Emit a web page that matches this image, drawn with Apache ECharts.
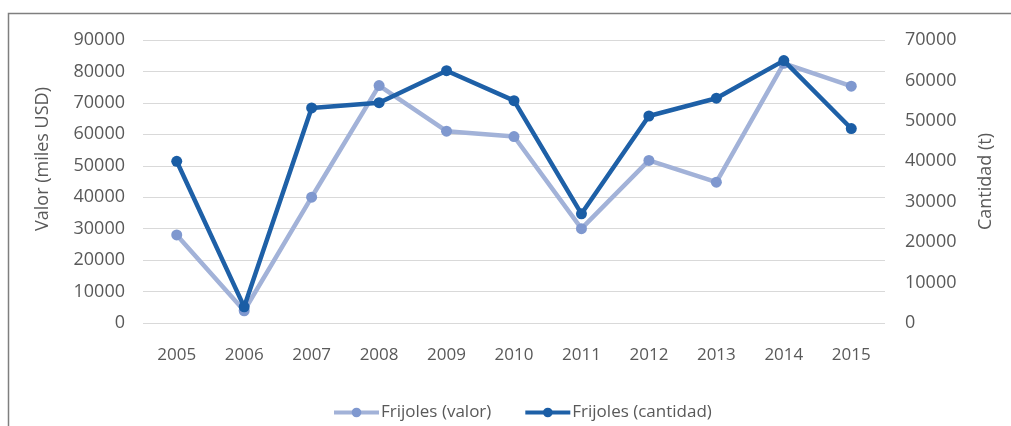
<!DOCTYPE html>
<html><head><meta charset="utf-8">
<script src="https://cdn.jsdelivr.net/npm/echarts@6/dist/echarts.min.js"></script>
<style>html,body{margin:0;padding:0;background:#fff}#c{width:1011px;height:426px}</style>
</head><body><div id="c"></div>
<script>
var years = ['2005','2006','2007','2008','2009','2010','2011','2012','2013','2014','2015'];
var valor = [28000, 3900, 40000, 75500, 61000, 59300, 30000, 51700, 44800, 82600, 75300];
var cantidad = [40000, 4000, 53200, 54500, 62400, 55000, 27000, 51200, 55600, 64900, 48100];
var leftTicks = {min: 0, max: 90000, interval: 10000};
var rightTicks = {min: 0, max: 70000, interval: 10000};

var font = 'Open Sans';
var txt = '#595959';
function plain(v) { return String(v); }
var chart = echarts.init(document.getElementById('c'));
chart.setOption({
  animation: false,
  backgroundColor: '#fff',
  grid: {left: 143, right: 126, top: 40, bottom: 103},
  graphic: [
    {type: 'rect', shape: {x: 8.5, y: 13.5, width: 1030, height: 440}, style: {fill: 'none', stroke: '#7f7f7f', lineWidth: 1.5}, silent: true},
    {type: 'text', x: 43, y: 159, rotation: Math.PI/2, style: {text: 'Valor (miles USD)', font: '18px "Open Sans"', fill: txt, align: 'center', verticalAlign: 'middle'}}
  ],
  legend: {
    left: 327, top: 399,
    itemWidth: 45, itemHeight: 12, itemGap: 32,
    lineStyle: {width: 4},
    textStyle: {fontFamily: font, fontSize: 17, color: txt, padding: [0,0,0,-3]},
    data: ['Frijoles (valor)', 'Frijoles (cantidad)']
  },
  xAxis: {
    type: 'category', data: years, boundaryGap: true,
    axisLine: {show: false}, axisTick: {show: false},
    axisLabel: {fontFamily: font, fontSize: 17, color: txt, margin: 24}
  },
  yAxis: [
    {type: 'value', min: leftTicks.min, max: leftTicks.max, interval: leftTicks.interval,
     axisLine: {show: false}, axisTick: {show: false},
     axisLabel: {fontFamily: font, fontSize: 18, color: txt, margin: 18, formatter: plain},
     splitLine: {lineStyle: {color: '#d9d9d9', width: 1}}},
    {type: 'value', min: rightTicks.min, max: rightTicks.max, interval: rightTicks.interval,
     position: 'right',
     name: 'Cantidad (t)', nameLocation: 'middle', nameGap: 92, nameRotate: 90,
     nameTextStyle: {fontFamily: font, fontSize: 18, color: txt},
     axisLine: {show: false}, axisTick: {show: false},
     axisLabel: {fontFamily: font, fontSize: 18, color: txt, margin: 20, formatter: plain},
     splitLine: {show: false}}
  ],
  series: [
    {name: 'Frijoles (valor)', type: 'line', yAxisIndex: 0, data: valor,
     symbol: 'circle', symbolSize: 11,
     lineStyle: {color: '#a2b2d8', width: 4.5},
     itemStyle: {color: '#7f98cf'}, z: 2},
    {name: 'Frijoles (cantidad)', type: 'line', yAxisIndex: 1, data: cantidad,
     symbol: 'circle', symbolSize: 11,
     lineStyle: {color: '#1e60a7', width: 4.5},
     itemStyle: {color: '#1a5da5'}, z: 3}
  ]
});
</script></body></html>
